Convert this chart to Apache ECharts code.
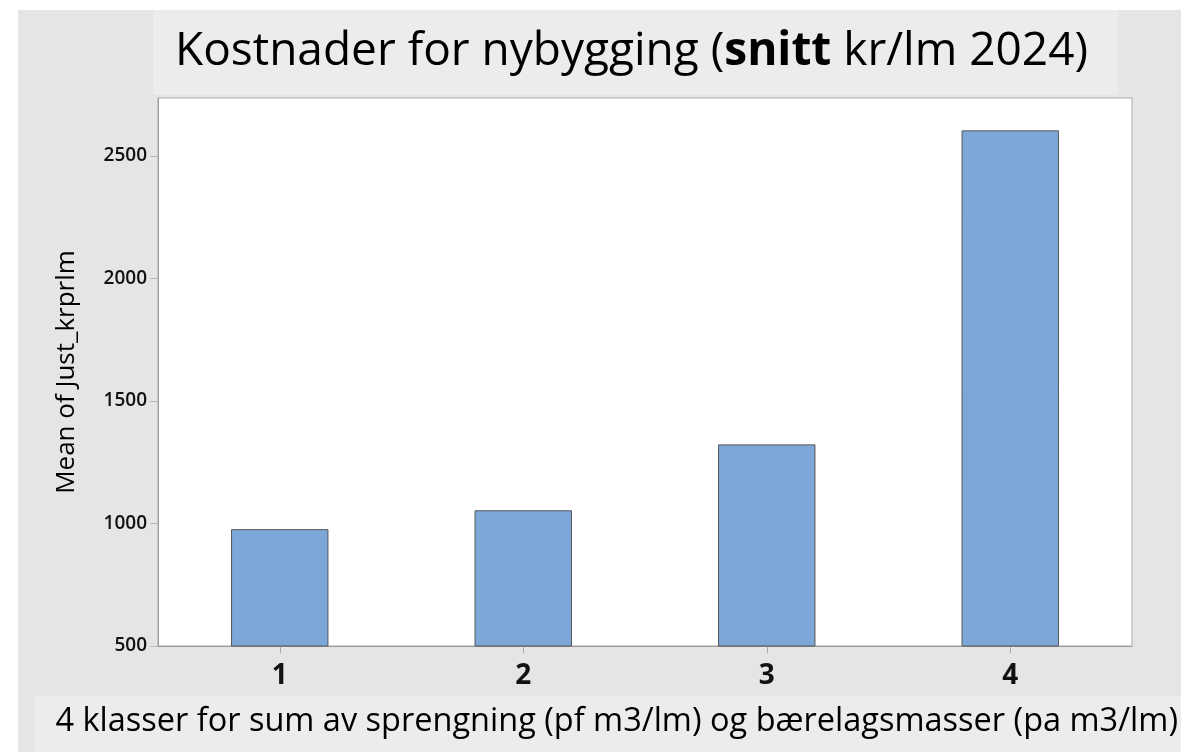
<!DOCTYPE html>
<html>
<head>
<meta charset="utf-8">
<script src="https://cdn.jsdelivr.net/npm/echarts@6/dist/echarts.min.js"></script>
<style>
  html, body { margin: 0; padding: 0; background: #fff; }
  #chart { width: 1181px; height: 752px; }
</style>
</head>
<body>
<div id="chart"></div>
<script>
const categories = ['1', '2', '3', '4']
const meanValues = [977, 1054, 1323, 2605]
const yTicks = [500, 1000, 1500, 2000, 2500]

const FONT = '"Open Sans", "Noto Sans", sans-serif'

const chart = echarts.init(document.getElementById('chart'))

const option = {
  backgroundColor: '#fff',
  animation: false,
  graphic: [
    { type: 'rect', z: -10, shape: { x: 18, y: 10, width: 1163, height: 742 }, style: { fill: '#e5e5e5' } },
    { type: 'rect', z: -9, shape: { x: 153, y: 10, width: 965, height: 85 }, style: { fill: '#ececec' } },
    { type: 'rect', z: -9, shape: { x: 34, y: 696, width: 1147, height: 56 }, style: { fill: '#ececec' } },
    {
      type: 'text', left: 175, top: 29, z: 10,
      style: {
        text: '{n|Kostnader for nybygging (}{b|snitt}{n| kr/lm 2024)}',
        rich: {
          n: { fontSize: 46, fontFamily: FONT, fill: '#000' },
          b: { fontSize: 46, fontFamily: FONT, fontWeight: 'bold', fill: '#000' }
        }
      }
    },
    {
      type: 'text', right: 3, top: 705, z: 10,
      style: {
        text: '4 klasser for sum av sprengning (pf m3/lm) og bærelagsmasser (pa m3/lm)',
        fontSize: 32.5, fontFamily: FONT, fill: '#000'
      }
    }
  ],
  grid: {
    left: 158, right: 49, top: 98, bottom: 106,
    show: true, backgroundColor: '#fff', borderColor: '#aaa', borderWidth: 1
  },
  xAxis: {
    type: 'category',
    data: categories,
    axisLine: { show: true, lineStyle: { color: '#999' } },
    axisTick: { show: true, alignWithLabel: true, length: 7, lineStyle: { color: '#aaa' } },
    axisLabel: { color: '#111', fontSize: 28, fontWeight: 'bold', fontFamily: FONT, margin: 16 }
  },
  yAxis: {
    type: 'value',
    min: 500,
    max: 2737,
    interval: 500,
    name: 'Mean of Just_krprlm',
    nameLocation: 'middle',
    nameGap: 78,
    nameTextStyle: { fontSize: 26, fontFamily: FONT, color: '#000' },
    axisLine: { show: true, lineStyle: { color: '#999' } },
    axisTick: { show: true, length: 8, lineStyle: { color: '#bbb' } },
    axisLabel: {
      color: '#111', fontSize: 19, fontWeight: 600, fontFamily: FONT, margin: 11,
      showMaxLabel: false,
      formatter: v => (yTicks.includes(v) ? String(v) : '')
    },
    splitLine: { show: false }
  },
  series: [{
    type: 'bar',
    data: meanValues,
    barWidth: '40%',
    itemStyle: { color: '#7da7d9', borderColor: '#555', borderWidth: 1 }
  }]
}

chart.setOption(option)
</script>
</body>
</html>
